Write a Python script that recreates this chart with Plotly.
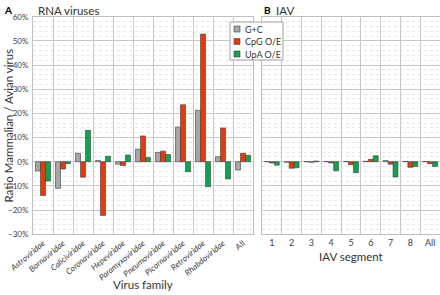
import plotly.graph_objects as go
from plotly.subplots import make_subplots

families = ["Astroviridae", "Bornaviridae", "Caliciviridae", "Coronaviridae", "Hepeviridae",
            "Paramyxoviridae", "Pneumoviridae", "Picornaviridae", "Retroviridae", "Rhabdoviridae", "All"]
fam_labels = ["<i>%s</i>" % f if f != "All" else "All" for f in families]
gc_rna = [-3.8, -11.0, 3.5, 0.5, -1.0, 5.2, 3.9, 14.4, 21.3, 2.1, -3.4]
cpg_rna = [-14.0, -3.0, -6.4, -22.2, -1.5, 10.7, 4.4, 23.6, 52.8, 14.0, 3.5]
upa_rna = [-8.0, -0.8, 13.0, 2.3, 2.8, 1.8, 3.0, -4.1, -10.3, -7.1, 2.7]

segments = ["1", "2", "3", "4", "5", "6", "7", "8", "All"]
gc_iav = [0.1, -0.2, 0.1, 0.1, 0.1, 0.2, 0.5, 0.1, 0.1]
cpg_iav = [-0.5, -2.7, -0.2, -0.5, -1.2, 1.0, -1.0, -2.3, -0.8]
upa_iav = [-1.4, -2.5, 0.3, -3.7, -4.5, 2.5, -6.3, -2.0, -2.0]

series_names = ["G+C", "CpG O/E", "UpA O/E"]
series_colors = ["#a6a6a6", "#e8380d", "#0ea44b"]
OUT = "#404040"
FONT = "Lato"
W, H = 440, 295


def px(x):
    return x / W


def py(y):
    return 1 - y / H


fig = make_subplots(rows=1, cols=2, shared_yaxes=True)

for name, col, vals in zip(series_names, series_colors, [gc_rna, cpg_rna, upa_rna]):
    fig.add_trace(go.Bar(x=fam_labels, y=[v / 100 for v in vals], name=name, showlegend=False,
                         marker=dict(color=col, line=dict(color=OUT, width=0.6))), row=1, col=1)
for name, col, vals in zip(series_names, series_colors, [gc_iav, cpg_iav, upa_iav]):
    fig.add_trace(go.Bar(x=segments, y=[v / 100 for v in vals], name=name, showlegend=False,
                         marker=dict(color=col, line=dict(color=OUT, width=0.6))), row=1, col=2)

axis_common = dict(showline=True, linecolor="#bfbfbf", linewidth=1, mirror=True,
                   showgrid=True, gridcolor="#c8c8c8", gridwidth=1, ticks="", automargin=False,
                   tickfont=dict(family=FONT, size=8, color="#404040"))
fig.update_xaxes(**axis_common, tickson="boundaries")
fig.update_xaxes(domain=[px(33), px(253)], tickangle=-40, row=1, col=1,
                 tickfont=dict(family=FONT, size=8.3, color="#404040"))
fig.update_xaxes(domain=[px(262), px(440)], tickangle=0, row=1, col=2,
                 tickfont=dict(family=FONT, size=9, color="#404040"))
fig.update_yaxes(**axis_common)
fig.update_yaxes(range=[-0.30, 0.60], dtick=0.10, tickformat=".0%",
                 domain=[py(234.3), py(16.7)],
                 zeroline=False,
                 minor=dict(dtick=0.02, showgrid=True, gridcolor="#e6e6e6", griddash="dot"))
fig.update_yaxes(row=1, col=1, ticksuffix=" ")

# legend drawn as a boxed key
shapes = [dict(type="rect", xref="paper", yref="paper", x0=px(230), x1=px(283), y0=py(60), y1=py(22),
               line=dict(color="#a0a0a0", width=1), fillcolor="white", layer="above")]
annotations = []
for i, (name, col) in enumerate(zip(series_names, series_colors)):
    yc = 29 + i * 12.5
    shapes.append(dict(type="rect", xref="paper", yref="paper", x0=px(234), x1=px(240),
                       y0=py(yc + 3), y1=py(yc - 3), line=dict(color=OUT, width=0.6),
                       fillcolor=col, layer="above"))
    annotations.append(dict(text=name, x=px(243), y=py(yc), xref="paper", yref="paper",
                            xanchor="left", yanchor="middle", showarrow=False,
                            font=dict(family=FONT, size=9, color="#333")))

title_font = dict(family=FONT, size=11.5, color="#333")
annotations += [
    dict(text="<b>A</b>", x=px(2), y=py(10), xref="paper", yref="paper",
         xanchor="left", yanchor="middle", showarrow=False, font=dict(family=FONT, size=10, color="#000")),
    dict(text="RNA viruses", x=px(36), y=py(10), xref="paper", yref="paper",
         xanchor="left", yanchor="middle", showarrow=False, font=title_font),
    dict(text="<b>B</b>", x=px(262), y=py(10), xref="paper", yref="paper",
         xanchor="left", yanchor="middle", showarrow=False, font=dict(family=FONT, size=10, color="#000")),
    dict(text="IAV", x=px(274), y=py(10), xref="paper", yref="paper",
         xanchor="left", yanchor="middle", showarrow=False, font=title_font),
    dict(text="Virus family", x=px(143), y=py(284), xref="paper", yref="paper",
         xanchor="center", yanchor="middle", showarrow=False, font=title_font),
    dict(text="IAV segment", x=px(351), y=py(256), xref="paper", yref="paper",
         xanchor="center", yanchor="middle", showarrow=False, font=title_font),
    dict(text="Ratio Mammalian / Avian virus", x=px(8), y=py(125.5), xref="paper", yref="paper",
         xanchor="center", yanchor="middle", showarrow=False, textangle=-90, font=title_font),
]

fig.update_layout(
    width=W, height=H, margin=dict(l=0, r=0, t=0, b=0),
    barmode="group", bargap=0.25, bargroupgap=0.0,
    plot_bgcolor="white", paper_bgcolor="white",
    font=dict(family=FONT, color="#333"),
    showlegend=False,
    shapes=shapes,
    annotations=annotations,
)

fig.write_html("out.html")
